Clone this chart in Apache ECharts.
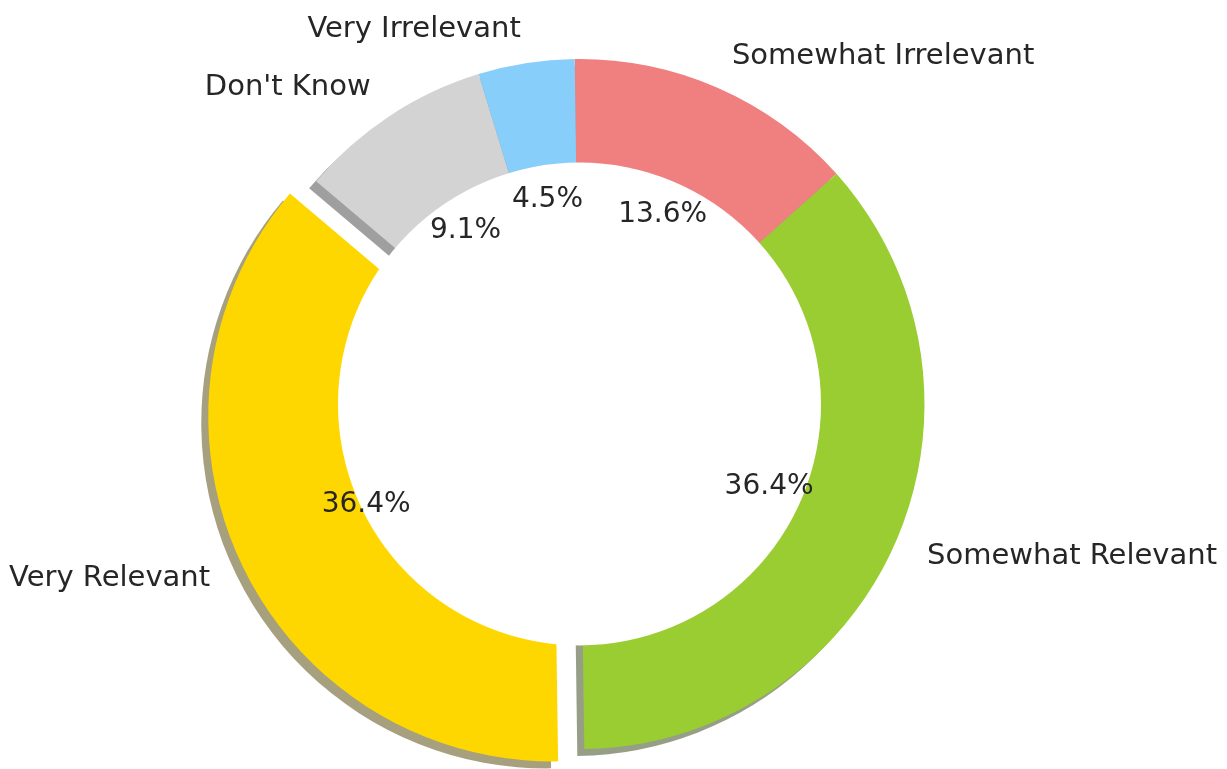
<!DOCTYPE html>
<html>
<head>
<meta charset="utf-8">
<script src="https://cdn.jsdelivr.net/npm/echarts@6/dist/echarts.min.js"></script>
<style>
  html, body { margin: 0; padding: 0; background: #fff; }
  #chart { width: 1227px; height: 769px; }
</style>
</head>
<body>
<div id="chart"></div>
<script>
// Survey answers, in clockwise order starting at 12 o'clock (percent of responses)
const categories = ['Somewhat Irrelevant', 'Somewhat Relevant', 'Very Relevant', "Don't Know", 'Very Irrelevant'];
const percents = [13.6, 36.4, 36.4, 9.1, 4.5];
const exploded = [false, false, true, false, false];
const colors = ['#F08080', '#9ACD32', '#FFD700', '#D3D3D3', '#87CEFA'];

// pie geometry (px)
const CX = 579.5, CY = 404;
const R = 345;
const START_ANGLE = 90.8;
const HOLE = R * 0.7;          // white centre circle laid over the wedges
const EXPLODE = 29;
const SHADOW_DX = -7, SHADOW_DY = 7;
const NAME_FONT = { fontFamily: 'DejaVu Sans', fontSize: 29, color: '#262626' };
const PCT_FONT = { fontFamily: 'DejaVu Sans', fontSize: 28, color: '#262626' };

function shade(hex) {
  const n = parseInt(hex.slice(1), 16);
  const r = Math.round(((n >> 16) & 255) * 0.3);
  const g = Math.round(((n >> 8) & 255) * 0.3);
  const b = Math.round((n & 255) * 0.3);
  return 'rgba(' + r + ',' + g + ',' + b + ',0.5)';
}

function items(colorFn) {
  return categories.map((name, i) => ({
    name: name,
    value: percents[i],
    selected: exploded[i],
    itemStyle: { color: colorFn(i) }
  }));
}

const common = {
  type: 'pie',
  startAngle: START_ANGLE,
  clockwise: true,
  silent: true,
  animation: false,
  avoidLabelOverlap: false,
  selectedMode: 'multiple',
  selectedOffset: EXPLODE,
  emphasis: { scale: false }
};

const chart = echarts.init(document.getElementById('chart'), null, { renderer: 'canvas' });
chart.setOption({
  backgroundColor: '#ffffff',
  series: [
    // drop shadow of every wedge
    Object.assign({}, common, {
      z: 1,
      center: [CX + SHADOW_DX, CY + SHADOW_DY],
      radius: [0, R],
      label: { show: false },
      labelLine: { show: false },
      itemStyle: { borderWidth: 0 },
      data: items(i => shade(colors[i]))
    }),
    // the wedges, with category names outside
    Object.assign({}, common, {
      z: 2,
      center: [CX, CY],
      radius: [0, R],
      itemStyle: { borderWidth: 0 },
      label: Object.assign({
        show: true,
        position: 'outside',
        formatter: '{b}',
        distanceToLabelLine: 0
      }, NAME_FONT),
      labelLine: { show: false, length: R * 0.1, length2: 0 },
      data: items(i => colors[i])
    }),
    // white centre circle turning the pie into a ring
    {
      type: 'pie', z: 3, silent: true, animation: false,
      center: [CX, CY], radius: [0, HOLE],
      label: { show: false }, labelLine: { show: false },
      itemStyle: { color: '#ffffff', borderWidth: 0 },
      emphasis: { scale: false },
      data: [{ name: 'centre', value: 1 }]
    },
    // percentage labels at 0.6 of the outer radius
    Object.assign({}, common, {
      z: 4,
      center: [CX, CY],
      radius: [0, R * 1.2 - 6],
      itemStyle: { borderWidth: 0 },
      label: Object.assign({
        show: true,
        position: 'inside',
        formatter: '{c}%'
      }, PCT_FONT),
      labelLine: { show: false },
      data: items(() => 'rgba(0,0,0,0)')
    })
  ]
});
</script>
</body>
</html>
